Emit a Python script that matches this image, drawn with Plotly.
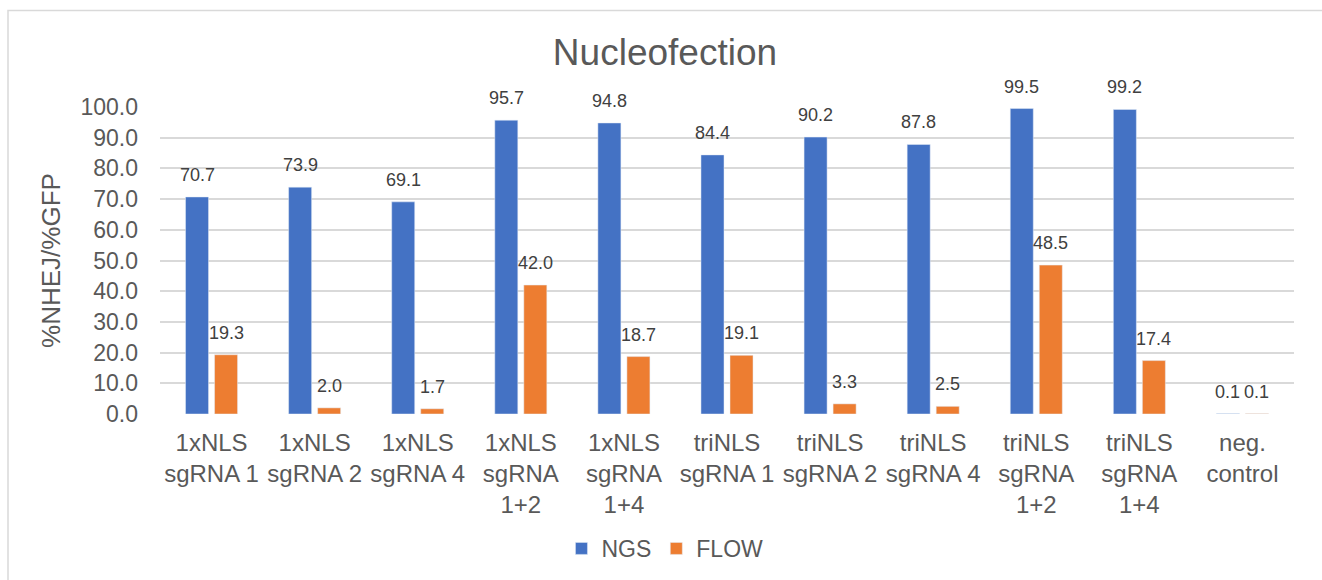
import plotly.graph_objects as go

categories = [
    "1xNLS<br>sgRNA 1", "1xNLS<br>sgRNA 2", "1xNLS<br>sgRNA 4", "1xNLS<br>sgRNA<br>1+2",
    "1xNLS<br>sgRNA<br>1+4", "triNLS<br>sgRNA 1", "triNLS<br>sgRNA 2", "triNLS<br>sgRNA 4",
    "triNLS<br>sgRNA<br>1+2", "triNLS<br>sgRNA<br>1+4", "neg.<br>control",
]
ngs = [70.7, 73.9, 69.1, 95.7, 94.8, 84.4, 90.2, 87.8, 99.5, 99.2, 0.1]
flow = [19.3, 2.0, 1.7, 42.0, 18.7, 19.1, 3.3, 2.5, 48.5, 17.4, 0.1]
y_ticks = [0, 10, 20, 30, 40, 50, 60, 70, 80, 90, 100]

FONT = "Liberation Sans, Arial, sans-serif"
TXT = "#595959"
LBL = "#404040"

fig = go.Figure()
fig.add_trace(go.Bar(x=categories, y=ngs, name="NGS", marker_color="#4472C4"))
fig.add_trace(go.Bar(x=categories, y=flow, name="FLOW", marker_color="#ED7D31"))

annotations = []
for series, shift in ((ngs, -14.5), (flow, 14.5)):
    for cat, val in zip(categories, series):
        annotations.append(dict(
            x=cat, y=val, xref="x", yref="y", text=f"{val:.1f}", showarrow=False,
            xshift=shift, yshift=22, yanchor="middle", xanchor="center",
            font=dict(family=FONT, size=18, color=LBL),
        ))

fig.update_layout(
    width=1322, height=580,
    margin=dict(l=160, r=28, t=107, b=166, autoexpand=False),
    paper_bgcolor="white", plot_bgcolor="white",
    font=dict(family=FONT, color=TXT),
    barmode="group", bargap=0.437, bargroupgap=0.207,
    title=dict(text="Nucleofection", x=0.503, xanchor="center", y=1 - 52 / 580,
               yanchor="middle", yref="container",
               font=dict(family=FONT, size=37, color=TXT)),
    legend=dict(orientation="h", xref="container", x=0.503, xanchor="center",
                y=-0.438, yanchor="middle", font=dict(family=FONT, size=23, color=TXT),
                itemwidth=30, traceorder="normal"),
    annotations=annotations,
    shapes=[dict(type="rect", xref="paper", yref="paper",
                 x0=(8 - 160) / 1134, x1=(1340 - 160) / 1134,
                 y0=(413.5 - 600) / 307, y1=(413.5 - 10) / 307,
                 line=dict(color="#D9D9D9", width=1.5), layer="below")],
)
fig.update_xaxes(
    showgrid=False, showline=False, zeroline=False, ticks="",
    tickfont=dict(family=FONT, size=24, color=TXT), ticklabelstandoff=12,
)
fig.update_yaxes(
    range=[0, 100], tickvals=y_ticks, tickformat=".1f",
    showgrid=True, gridcolor="#D9D9D9", gridwidth=1.5, zeroline=False, showline=False,
    tickfont=dict(family=FONT, size=23, color=TXT), ticklabelstandoff=21,
    title=dict(text="%NHEJ/%GFP", font=dict(family=FONT, size=26, color=TXT), standoff=12),
)

fig.write_html("out.html")
